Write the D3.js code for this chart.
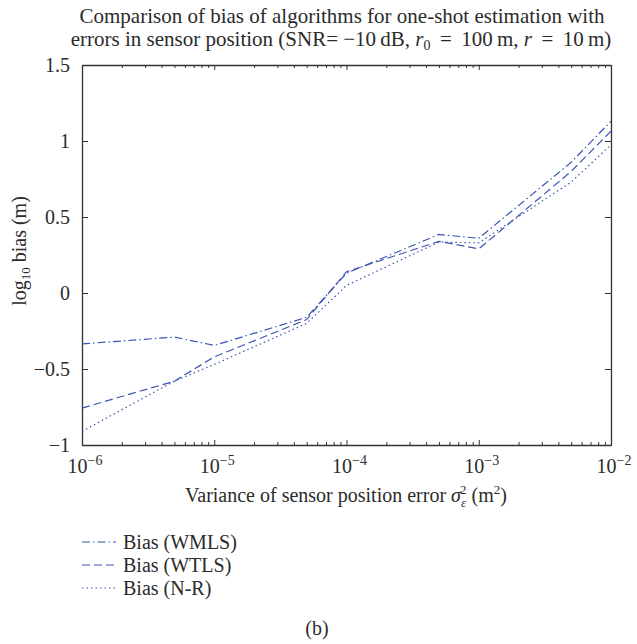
<!DOCTYPE html>
<html>
<head>
<meta charset="utf-8">
<script src="https://cdnjs.cloudflare.com/ajax/libs/d3/7.8.5/d3.min.js"></script>
<style>
body { margin: 0; background: #fff; }
text { font-family: "Liberation Serif", "DejaVu Serif", serif; fill: #2b2b2b; }
</style>
</head>
<body>
<svg id="chart" width="637" height="644"></svg>
<script>
// data
var variance = [1e-6, 5e-6, 1e-5, 5e-5, 1e-4, 5e-4, 1e-3, 5e-3, 1e-2];
var biasWMLS = [-0.335, -0.29, -0.345, -0.16, 0.13, 0.385, 0.36, 0.86, 1.13];
var biasWTLS = [-0.757, -0.58, -0.42, -0.175, 0.14, 0.34, 0.29, 0.8, 1.065];
var biasNR   = [-0.91, -0.58, -0.47, -0.2, 0.05, 0.335, 0.33, 0.73, 0.975];
var yTicks = [-1, -0.5, 0, 0.5, 1, 1.5];
var xTicks = [1e-6, 1e-5, 1e-4, 1e-3, 1e-2];
var seriesNames = ['Bias (WMLS)', 'Bias (WTLS)', 'Bias (N-R)'];

var svg = d3.select('#chart');
var plotL = 82, plotR = 611, plotT = 65, plotB = 445;
var blue = '#3a55b2';
var dashes = ['8,3,1.5,3', '8,4', '1.5,3'];

var x = d3.scaleLog().domain([1e-6, 1e-2]).range([plotL, plotR]);
var y = d3.scaleLinear().domain([-1, 1.5]).range([plotB, plotT]);

// minor ticks on the log axis
var minor = [];
for (var e = -6; e < -2; e++) {
  for (var k = 2; k <= 9; k++) minor.push(k * Math.pow(10, e));
}

var fmtY = function(d) { return d < 0 ? '\u2212' + Math.abs(d) : String(d); };

function axisGroup(gen, tx, ty) {
  var g = svg.append('g').attr('transform', 'translate(' + tx + ',' + ty + ')').call(gen);
  g.select('.domain').attr('stroke', '#333').attr('stroke-width', 1.3);
  g.selectAll('.tick line').attr('stroke', '#333');
  return g;
}

// bottom / top: major and minor
axisGroup(d3.axisBottom(x).tickValues(xTicks).tickSize(-5).tickSizeOuter(0).tickFormat(''), 0, plotB);
axisGroup(d3.axisBottom(x).tickValues(minor).tickSize(-3).tickFormat(''), 0, plotB).select('.domain').remove();
axisGroup(d3.axisTop(x).tickValues(xTicks).tickSize(-5).tickSizeOuter(0).tickFormat(''), 0, plotT);
axisGroup(d3.axisTop(x).tickValues(minor).tickSize(-3).tickFormat(''), 0, plotT).select('.domain').remove();

// left / right
var yl = axisGroup(d3.axisLeft(y).tickValues(yTicks).tickSize(-6).tickSizeOuter(0).tickPadding(12).tickFormat(fmtY), plotL, 0);
yl.selectAll('.tick text').attr('font-size', 20).attr('fill', '#2b2b2b')
  .attr('font-family', '"Liberation Serif", serif');
axisGroup(d3.axisRight(y).tickValues(yTicks).tickSize(-6).tickSizeOuter(0).tickFormat(''), plotR, 0);

// x tick labels 10^n
xTicks.forEach(function(v) {
  var t = svg.append('text').attr('x', x(v) + 3).attr('y', plotB + 28)
    .attr('text-anchor', 'middle').attr('font-size', 20);
  t.append('tspan').text('10');
  t.append('tspan').attr('dy', -8).attr('font-size', 14).text('\u2212' + Math.round(-Math.log10(v)));
});

// lines
var line = d3.line()
  .x(function(d, i) { return x(variance[i]); })
  .y(function(d) { return y(d); });

[biasWMLS, biasWTLS, biasNR].forEach(function(s, i) {
  svg.append('path').datum(s)
    .attr('d', line)
    .attr('fill', 'none')
    .attr('stroke', blue)
    .attr('stroke-width', 1.2)
    .attr('stroke-dasharray', dashes[i]);
});

// title
svg.append('text').attr('x', 342).attr('y', 23).attr('text-anchor', 'middle').attr('font-size', 21)
  .text('Comparison of bias of algorithms for one-shot estimation with');
var t2 = svg.append('text').attr('x', 341).attr('y', 46).attr('text-anchor', 'middle').attr('font-size', 21);
t2.append('tspan').text('errors in sensor position (SNR= \u221210\u2009dB, ');
t2.append('tspan').attr('font-style', 'italic').text('r');
t2.append('tspan').attr('dy', 4).attr('font-size', 14).text('0');
t2.append('tspan').attr('dy', -4).text(' \u2009=\u2009 100\u2009m, ');
t2.append('tspan').attr('font-style', 'italic').text('r');
t2.append('tspan').text(' \u2009=\u2009 10\u2009m)');

// x label
var xl = svg.append('text').attr('x', 346).attr('y', 502).attr('text-anchor', 'middle').attr('font-size', 20);
xl.append('tspan').text('Variance of sensor position error ');
xl.append('tspan').attr('font-style', 'italic').text('\u03c3');
xl.append('tspan').attr('dy', 5).attr('font-size', 13).attr('font-style', 'italic').text('\u03b5');
xl.append('tspan').attr('dy', -13).attr('dx', -6).attr('font-size', 13).text('2');
xl.append('tspan').attr('dy', 8).text(' (m');
xl.append('tspan').attr('dy', -8).attr('font-size', 13).text('2');
xl.append('tspan').attr('dy', 8).text(')');

// y label
var ylab = svg.append('text').attr('transform', 'translate(26,251) rotate(-90)')
  .attr('text-anchor', 'middle').attr('font-size', 20);
ylab.append('tspan').text('log');
ylab.append('tspan').attr('dy', 4).attr('font-size', 13).text('10');
ylab.append('tspan').attr('dy', -4).text(' bias (m)');

// legend
seriesNames.forEach(function(name, i) {
  var ly = 542 + i * 23;
  svg.append('line').attr('x1', 82).attr('x2', 116).attr('y1', ly).attr('y2', ly)
    .attr('stroke', blue).attr('stroke-width', 1.2).attr('stroke-dasharray', dashes[i]);
  svg.append('text').attr('x', 123).attr('y', ly + 7).attr('font-size', 20).text(name);
});

// panel label
svg.append('text').attr('x', 317).attr('y', 635).attr('text-anchor', 'middle').attr('font-size', 20).text('(b)');
</script>
</body>
</html>
